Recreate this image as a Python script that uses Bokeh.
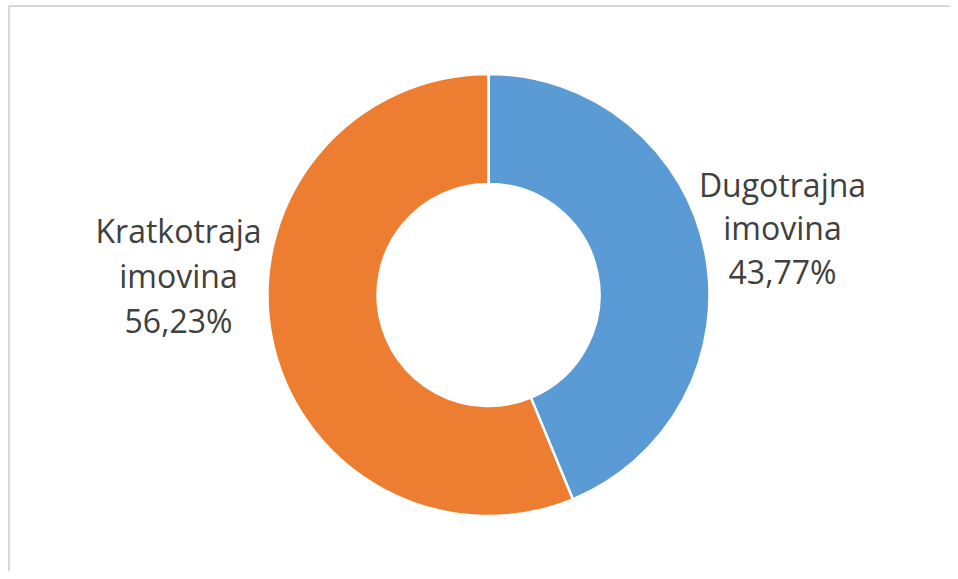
import math
from bokeh.plotting import figure
from bokeh.models import Range1d, ColumnDataSource
from bokeh.core.properties import value
from bokeh.embed import file_html
from bokeh.resources import INLINE

# ---- data ----
categories = ["Dugotrajna imovina", "Kratkotraja imovina"]
shares = [43.77, 56.23]
share_labels = ["43,77%", "56,23%"]
colors = ["#5B9BD5", "#ED7D31"]

W, H = 950, 571
p = figure(width=W, height=H, output_backend="svg", toolbar_location=None,
           x_range=Range1d(0, W), y_range=Range1d(0, H), min_border=0)
p.axis.visible = False
p.grid.visible = False
p.outline_line_color = None
p.background_fill_color = "white"
p.border_fill_color = "white"

# border of the chart area (top and left visible in the crop)
p.line(x=[8.5, 8.5, W + 5], y=[-5, H - 5.5, H - 5.5], line_color="#d9d9d9", line_width=2)

cx, cy = 488, 276.5
r_out, r_in = 221, 111
total = sum(shares)
starts, ends = [], []
acc = 0.0
for s in shares:
    a0 = math.pi / 2 - 2 * math.pi * acc / total
    acc += s
    a1 = math.pi / 2 - 2 * math.pi * acc / total
    starts.append(a0)
    ends.append(a1)

src = ColumnDataSource(dict(cat=categories, share=shares, color=colors,
                            start=starts, end=ends))
p.annular_wedge(x=cx, y=cy, inner_radius=r_in, outer_radius=r_out,
                start_angle="start", end_angle="end", direction="clock",
                fill_color="color", line_color="white", line_width=2.5, source=src)

# labels
label_pos = [(782, [387, 344, 300]), (178, [341, 296, 251])]
lx, ly, lt = [], [], []
for cat, lab, (x, ys) in zip(categories, share_labels, label_pos):
    lines = cat.split(" ") + [lab]
    for t, y in zip(lines, ys):
        lx.append(x)
        ly.append(y)
        lt.append(t)
p.text(x=lx, y=ly, text=lt, text_align="center", text_baseline="alphabetic",
       text_font=value("Open Sans"), text_font_size="32px", text_color="#404040")

open("out.html", "w").write(file_html(p, INLINE))
